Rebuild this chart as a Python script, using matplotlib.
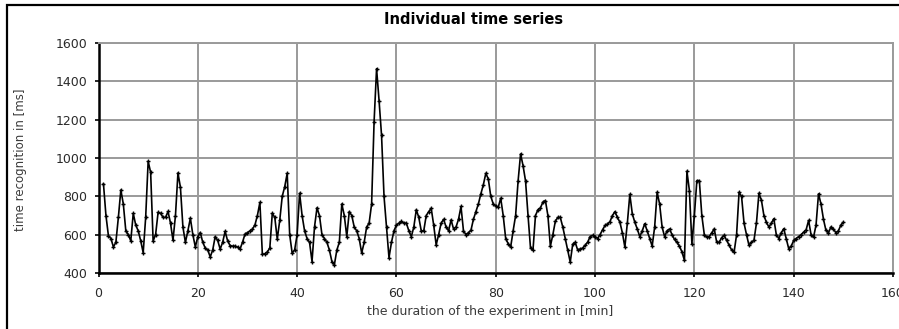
import numpy as np
import matplotlib
matplotlib.use("Agg")
import matplotlib.pyplot as plt
from matplotlib.patches import Rectangle

plt.rcParams['font.family'] = ['DejaVu Sans']

# sampling: one reading every half minute from 1 to 150 min
minutes = np.arange(1.0, 150.01, 0.5)

rt_01_10 = [865, 700, 594, 580, 536, 560, 690, 833, 760, 620, 600, 568, 711, 650, 620, 568, 506, 690, 983, 925]
rt_11_20 = [568, 600, 716, 711, 690, 690, 721, 660, 571, 700, 922, 847, 640, 560, 620, 686, 600, 536, 590, 611]
rt_21_30 = [560, 530, 520, 484, 520, 590, 570, 525, 560, 617, 568, 543, 540, 540, 535, 525, 560, 603, 610, 620]
rt_31_40 = [629, 650, 700, 768, 498, 500, 510, 530, 711, 690, 577, 675, 800, 850, 920, 600, 504, 520, 600, 816]
rt_41_50 = [700, 620, 580, 560, 460, 640, 740, 700, 600, 580, 560, 520, 460, 443, 520, 560, 760, 700, 590, 720]
rt_51_60 = [700, 640, 620, 580, 504, 560, 640, 660, 760, 1190, 1466, 1300, 1119, 800, 640, 480, 560, 620, 650, 660]
rt_61_70 = [669, 660, 660, 620, 590, 640, 730, 690, 620, 620, 700, 720, 738, 650, 547, 600, 660, 680, 640, 620]
rt_71_80 = [677, 630, 640, 680, 747, 620, 600, 610, 622, 680, 720, 760, 813, 860, 920, 891, 800, 760, 750, 743]
rt_81_90 = [790, 700, 580, 553, 535, 620, 700, 880, 1021, 960, 880, 700, 530, 520, 700, 730, 740, 770, 778, 700]
rt_91_100 = [540, 600, 670, 690, 690, 640, 579, 520, 457, 550, 560, 520, 525, 530, 545, 560, 590, 596, 590, 580]
rt_101_110 = [600, 625, 648, 655, 668, 700, 720, 690, 665, 610, 535, 660, 810, 709, 665, 630, 590, 620, 657, 620]
rt_111_120 = [580, 540, 640, 821, 760, 640, 590, 620, 630, 600, 575, 560, 540, 510, 466, 931, 830, 553, 700, 882]
rt_121_130 = [882, 700, 600, 587, 590, 610, 630, 560, 560, 585, 596, 570, 545, 520, 509, 600, 821, 800, 660, 600]
rt_131_140 = [544, 560, 570, 660, 816, 780, 700, 665, 640, 660, 683, 600, 580, 610, 631, 580, 527, 540, 570, 580]
rt_141_150 = [590, 600, 613, 625, 674, 600, 587, 650, 813, 760, 680, 622, 610, 640, 630, 610, 620, 650, 665]

recognition_ms = (rt_01_10 + rt_11_20 + rt_21_30 + rt_31_40 + rt_41_50 + rt_51_60 + rt_61_70
                  + rt_71_80 + rt_81_90 + rt_91_100 + rt_101_110 + rt_111_120 + rt_121_130
                  + rt_131_140 + rt_141_150)

x_ticks = [0, 20, 40, 60, 80, 100, 120, 140, 160]
y_ticks = [400, 600, 800, 1000, 1200, 1400, 1600]

title = "Individual time series"
x_label = "the duration of the experiment in [min]"
y_label = "time recognition in [ms]"

W, H = 899, 329
fig = plt.figure(figsize=(W / 100, H / 100), dpi=100)
fig.patch.set_facecolor("white")

# outer chart frame (extends past the right/bottom edges as in the reference)
fig.patches.append(Rectangle((7 / W, -0.05), 1.2, 1 - 5 / H + 0.05, transform=fig.transFigure,
                             fill=False, edgecolor="black", linewidth=1.6))

ax = fig.add_axes([98.5 / W, 1 - 273 / H, (893 - 98.5) / W, (273 - 43) / H])
ax.plot(minutes, recognition_ms, color="black", linewidth=1.2, marker="+",
        markersize=3.5, markeredgewidth=1.0, zorder=3)

ax.set_xlim(0, 160)
ax.set_ylim(400, 1600)
ax.set_xticks(x_ticks)
ax.set_yticks(y_ticks)
ax.grid(True, color="#9a9a9a", linewidth=1.4)
ax.set_axisbelow(True)

for side in ("top", "right"):
    ax.spines[side].set_color("#9a9a9a")
    ax.spines[side].set_linewidth(1.4)
for side in ("left", "bottom"):
    ax.spines[side].set_color("black")
    ax.spines[side].set_linewidth(1.8)

ax.tick_params(axis="both", direction="out", length=3, width=1.2, color="black",
               labelsize=9, labelcolor="#2a2a2a")
ax.tick_params(axis="x", pad=7)
ax.tick_params(axis="y", pad=5)

fig.text(490 / W, 1 - 312 / H, x_label, ha="center", va="center",
         fontsize=9, color="#3a3a3a")
fig.text(21 / W, 1 - 160 / H, y_label, ha="center", va="center", rotation=90,
         fontsize=8.5, color="#3a3a3a")
fig.text(474 / W, 1 - 20 / H, title, ha="center", va="center",
         fontsize=10.5, fontweight="bold", color="black")

fig.savefig("out.png", dpi=100)
